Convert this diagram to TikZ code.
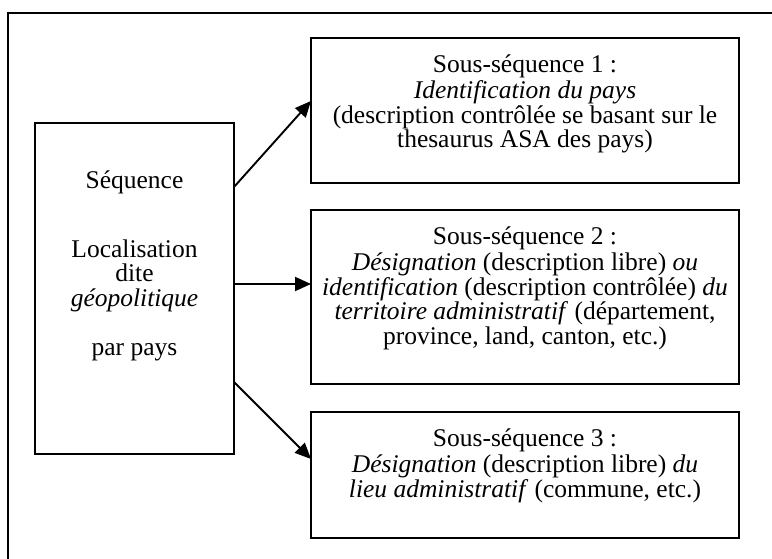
\documentclass[tikz,border=0pt]{standalone}
\usepackage{fontspec}
\setmainfont{Liberation Serif}
\usetikzlibrary{arrows.meta}
\begin{document}
\begin{tikzpicture}[x=1pt,y=-1pt,
  boxst/.style={draw=black,line width=1.9pt,inner sep=0pt,outer sep=0pt},
  txt/.style={inner sep=0pt,outer sep=0pt,anchor=north,align=center,
    font=\fontsize{25.5}{24.5}\selectfont},
  arr/.style={line width=1.9pt,-{Triangle[length=16pt,width=14pt]}}]
\useasboundingbox (0,0) rectangle (772,559);
\begin{scope}
\clip (0,0) rectangle (772,559);
\node[boxst,minimum width=790,minimum height=560,anchor=north west] (frame) at (8,13) {};
\end{scope}
\node[boxst,minimum width=199,minimum height=331] (seq) at (134.5,288.5) {};
\node[boxst,minimum width=428,minimum height=145] (b1) at (525,110.5) {};
\node[boxst,minimum width=428,minimum height=174] (b2) at (525,297) {};
\node[boxst,minimum width=428,minimum height=126] (b3) at (525,475) {};
\node[txt] (tseq) at (134.5,170.85) {\strut Séquence\\[42.5pt] Localisation\\ dite\\ \textit{géopolitique}\\[24.5pt] par pays};
\node[txt] (t1) at (525,54.85) {\strut Sous-séquence 1 :\\ \textit{Identification du pays}\\ (description contrôlée se basant sur le\\ thesaurus ASA des pays)};
\node[txt] (t2) at (525,226.85) {\strut Sous-séquence 2 :\\ \textit{Désignation} (description libre) \textit{ou}\\ \textit{identification} (description contrôlée) \textit{du}\\ \textit{territoire administratif} (département,\\ province, land, canton, etc.)};
\node[txt] (t3) at (525,428.85) {\strut Sous-séquence 3 :\\ \textit{Désignation} (description libre) \textit{du}\\ \textit{lieu administratif} (commune, etc.)};
\draw[arr] ([yshift=-64pt]seq.north east) -- ([yshift=-63pt]b1.north west);
\draw[arr] ([yshift=-161pt]seq.north east) -- ([yshift=-74pt]b2.north west);
\draw[arr] ([yshift=-259pt]seq.north east) -- ([yshift=-47pt]b3.north west);
\end{tikzpicture}
\end{document}
